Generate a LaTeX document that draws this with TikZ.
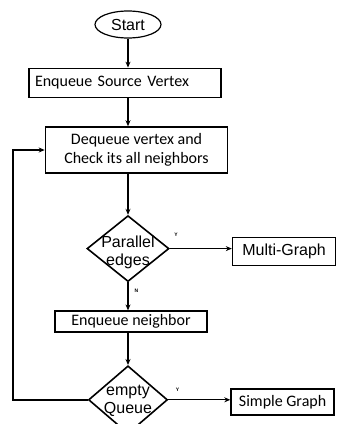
\documentclass[tikz,border=0pt]{standalone}
\usepackage{fontspec}
\setmainfont{Carlito}
\newfontfamily\arialfont{Liberation Sans}
\usetikzlibrary{shapes.geometric, arrows.meta, positioning}

\begin{document}
\begin{tikzpicture}[
    x=1pt, y=1pt,
    node distance=28pt and 62pt,
    font=\fontsize{16}{19}\selectfont,
    arial/.style={font=\arialfont\fontsize{16}{18}\selectfont},
    terminal/.style={ellipse, draw=black, line width=1.2pt, minimum width=66pt, minimum height=27pt, inner sep=0pt, arial},
    process/.style={rectangle, draw=black, line width=1.6pt, align=center, inner sep=0pt},
    decision/.style={diamond, draw=black, line width=1.6pt, minimum width=82pt, minimum height=66pt, inner sep=0pt},
    arrow/.style={line width=1.3pt, -{Stealth[length=6pt, width=5pt]}},
    tag/.style={font=\arialfont\bfseries\fontsize{5}{5}\selectfont, inner sep=0pt}
]
\useasboundingbox (0,0) rectangle (339,-424);

% Nodes
\node (start) [terminal] at (128,-24.5) {Start};
\node (source) [process, minimum width=192pt, minimum height=29pt, text width=180pt, inner xsep=6pt, align=left, below=29pt of start, xshift=-3pt] {Enqueue Source Vertex};
\node (dequeue) [process, minimum width=182pt, minimum height=46pt, below=28pt of source, xshift=11.5pt] {Dequeue vertex and\\Check its all neighbors};
\node (parallel) [decision, below=41pt of dequeue, xshift=-8.5pt, label={[arial, align=center, yshift=-4pt]center:Parallel\\edges}] {};
\node (multi) [process, arial, minimum width=103pt, minimum height=28pt, right=62pt of parallel, yshift=-3pt] {Multi-Graph};
\node (enqueue) [process, minimum width=152pt, minimum height=21pt, below=28pt of parallel, xshift=3pt] {Enqueue neighbor};
\node (empty) [decision, minimum height=68pt, minimum width=79pt, below=32pt of enqueue, xshift=-3pt, label={[arial, align=center, yshift=-1pt]center:empty\\Queue}] {};
\node (simple) [process, minimum width=103pt, minimum height=26pt, right=62pt of empty, yshift=-2pt] {Simple Graph};

% Connections
\draw [arrow] (start) -- (start |- source.north);
\draw [arrow] (start |- source.south) -- (start |- dequeue.north);
\draw [arrow] (start |- dequeue.south) -- (parallel);
\draw [arrow] (parallel.east) -- node[tag, pos=0.1, above=11pt] {Y} (parallel.east -| multi.west);
\draw [arrow] (parallel.south) -- node[tag, pos=0.3, right=6pt] {N} (parallel.south |- enqueue.north);
\draw [arrow] (enqueue.south -| empty.north) -- (empty);
\draw [arrow] (empty.east) -- node[tag, pos=0.15, above=8pt] {Y} (empty.east -| simple.west);
\draw [arrow, line width=1.6pt] (empty.west) -| ([xshift=-32pt]dequeue.west) |- (dequeue.west);

\end{tikzpicture}
\end{document}
